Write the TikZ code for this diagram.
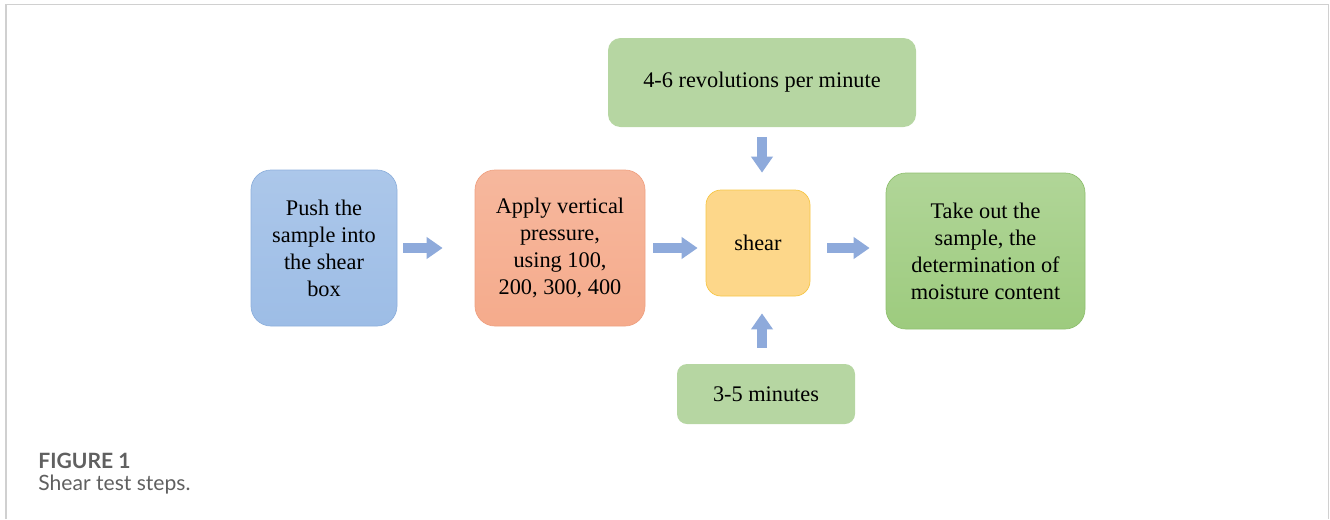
\documentclass[tikz,border=0pt]{standalone}
\usepackage{fontspec}
\setmainfont{Liberation Serif}
\newfontfamily\capfont{Lato}
\usetikzlibrary{arrows.meta}

\definecolor{pushfill}{HTML}{9DBDE6}
\definecolor{pushline}{HTML}{8EB0DC}
\definecolor{applyfill}{HTML}{F5AB8C}
\definecolor{applyline}{HTML}{EFA283}
\definecolor{shearfill}{HTML}{FDD78A}
\definecolor{shearline}{HTML}{F6C647}
\definecolor{paramfill}{HTML}{B6D6A2}
\definecolor{takefill}{HTML}{9DCB7E}
\definecolor{takeline}{HTML}{90C070}
\definecolor{blkarrow}{HTML}{8EAADB}
\definecolor{framegray}{HTML}{D0D0D0}
\definecolor{capgray}{HTML}{606060}

\begin{document}
\begin{tikzpicture}[
    stepbox/.style={rounded corners=0.4cm, align=center, inner sep=0pt,
      font=\fontsize{12.7}{15.4}\selectfont},
    blk/.style={line width=0.2cm, draw=blkarrow, -{Triangle[width=0.42cm, length=0.32cm]}}
  ]
    \useasboundingbox (0, 0) rectangle (26.6, -10.38);
    \draw[framegray, line width=0.8pt] (0.12, -10.38) -- (0.12, -0.09) -- (26.57, -0.09) -- (26.57, -10.38);

    \node[stepbox, draw=pushline, top color=pushfill!85!white, bottom color=pushfill,
      minimum width=2.92cm, minimum height=3.12cm] (push) at (6.48, -4.96)
      {Push the\\sample into\\the shear\\box};
    \node[stepbox, draw=applyline, top color=applyfill!85!white, bottom color=applyfill,
      minimum width=3.4cm, minimum height=3.12cm] (apply) at (11.2, -4.96)
      {Apply vertical\\pressure,\\using 100,\\200, 300, 400};
    \node[stepbox, rounded corners=0.3cm, draw=shearline, fill=shearfill,
      minimum width=2.08cm, minimum height=2.12cm] (shear) at (15.16, -4.86) {shear};
    \node[stepbox, draw=takeline, top color=takefill!80!white, bottom color=takefill,
      minimum width=3.98cm, minimum height=3.12cm] (take) at (19.71, -5.02)
      {Take out the\\sample, the\\determination of\\moisture content};

    \node[stepbox, rounded corners=0.25cm, fill=paramfill,
      minimum width=6.16cm, minimum height=1.78cm] (rpm) at (15.24, -1.65)
      {4-6 revolutions per minute};
    \node[stepbox, rounded corners=0.2cm, fill=paramfill,
      minimum width=3.56cm, minimum height=1.2cm] (mins) at (15.32, -7.88)
      {3-5 minutes};

    \draw[blk, shorten <=0.12cm, shorten >=0.64cm] (push.east) -- (apply.west);
    \draw[blk, shorten <=0.16cm, shorten >=0.16cm] (apply.east) -- (apply.east -| shear.west);
    \draw[blk, shorten <=0.34cm, shorten >=0.32cm] (shear.east |- apply.east) -- (take.west |- apply.east);
    \draw[blk, shorten <=0.2cm, shorten >=0.34cm] (rpm.south) -- (rpm.south |- shear.north);
    \draw[blk, shorten <=0.32cm, shorten >=0.34cm] (mins.north -| rpm.south) -- (rpm.south |- shear.south);

    \node[anchor=base west, inner sep=0pt, text=capgray, font=\capfont\bfseries\fontsize{12}{14}\selectfont]
      (figlabel) at (0.76, -9.36) {FIGURE 1};
    \node[anchor=base west, inner sep=0pt, text=capgray, font=\capfont\fontsize{12}{14}\selectfont]
      (figtext) at (0.76, -9.8) {Shear test steps.};
  \end{tikzpicture}
\end{document}
